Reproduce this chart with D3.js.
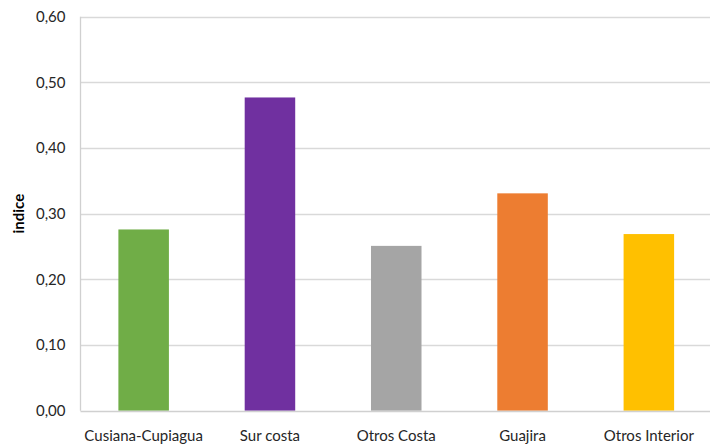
<!DOCTYPE html>
<html><head><meta charset="utf-8">
<script src="https://cdn.jsdelivr.net/npm/d3@7"></script>
<style>body{margin:0;background:#fff;}svg{display:block;font-family:Lato,"Open Sans",sans-serif;}</style>
</head><body>
<svg id="c" width="710" height="446"></svg>
<script>
const categories = ["Cusiana-Cupiagua","Sur costa","Otros Costa","Guajira","Otros Interior"];
const values = [0.276, 0.477, 0.251, 0.331, 0.269];
const colors = ["#70AD47","#7030A0","#A5A5A5","#ED7D31","#FFC000"];
const yTicks = [0,0.1,0.2,0.3,0.4,0.5,0.6];
const yTitle = "indice";

(function(){
const svg = d3.select("#c");
const pL = 80.5, pR = 712, pT = 16.7, pB = 410.7;
const x = d3.scaleBand().domain(categories).range([pL,pR]).paddingInner(0.6).paddingOuter(0.3);
const y = d3.scaleLinear().domain([0,0.6]).range([pB,pT]);
const fmt = d => d3.format(".2f")(d).replace(".",",");

svg.append("g").selectAll("line").data(yTicks.slice(1)).join("line")
  .attr("x1",pL).attr("x2",710).attr("y1",d=>Math.round(y(d))+0.5).attr("y2",d=>Math.round(y(d))+0.5)
  .attr("stroke","#d9d9d9").attr("stroke-width",1.3);

svg.append("g").selectAll("rect").data(categories).join("rect")
  .attr("x",d=>x(d)).attr("width",x.bandwidth())
  .attr("y",(d,i)=>y(values[i])).attr("height",(d,i)=>y(0)-y(values[i]))
  .attr("fill",(d,i)=>colors[i]);

svg.append("line").attr("x1",pL).attr("x2",pL).attr("y1",pT).attr("y2",pB)
  .attr("stroke","#d0d0d0").attr("stroke-width",1.3);
svg.append("line").attr("x1",pL).attr("x2",710).attr("y1",Math.round(y(0))+0.5).attr("y2",Math.round(y(0))+0.5)
  .attr("stroke","#d0d0d0").attr("stroke-width",1.3);

const yAxis = d3.axisLeft(y).tickValues(yTicks).tickFormat(fmt).tickSize(0).tickPadding(15);
const gy = svg.append("g").attr("transform",`translate(${pL},0)`).call(yAxis);
gy.select(".domain").remove();
gy.selectAll("text").attr("font-size",15).attr("fill","#262626").attr("font-family","Lato, sans-serif");

const xAxis = d3.axisBottom(x).tickSize(0).tickPadding(20);
const gx = svg.append("g").attr("transform",`translate(0,${pB})`).call(xAxis);
gx.select(".domain").remove();
gx.selectAll("text").attr("font-size",15).attr("fill","#262626").attr("font-family","Lato, sans-serif");

svg.append("text").attr("transform",`translate(24,${(pT+pB)/2}) rotate(-90)`)
  .attr("text-anchor","middle").attr("font-size",15).attr("font-weight","bold").attr("fill","#000")
  .text(yTitle);
})();
</script>
</body></html>
